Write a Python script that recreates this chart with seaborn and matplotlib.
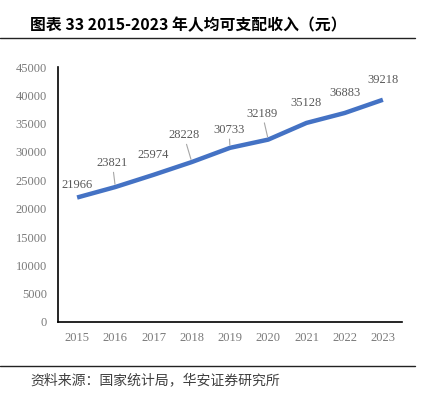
import matplotlib
matplotlib.use("Agg")
import matplotlib.pyplot as plt
from matplotlib.lines import Line2D
import seaborn as sns
import pandas as pd

years = ["2015", "2016", "2017", "2018", "2019", "2020", "2021", "2022", "2023"]
income = [21966, 23821, 25974, 28228, 30733, 32189, 35128, 36883, 39218]
yticks = [0, 5000, 10000, 15000, 20000, 25000, 30000, 35000, 40000, 45000]
title = "图表 33 2015-2023 年人均可支配收入（元）"
source = "资料来源：国家统计局，华安证券研究所"

# label offsets in pixels (dx, dy) and whether a leader line is drawn
label_offsets = [(0, 13), (-3, 24), (0, 20), (-8, 27), (-1, 18), (-6, 26), (0, 20), (0, 20), (0, 20)]
leaders = [False, True, False, True, True, True, False, False, False]

sns.set_theme(style="white")
plt.rcParams['font.family'] = ['Noto Sans CJK SC', 'DejaVu Sans']

df = pd.DataFrame({"year": years, "income": income})

fig = plt.figure(figsize=(4.22, 3.95), dpi=100)
ax = fig.add_axes([58/422, 1-322/395, (402-58)/422, (322-67)/395])

sns.lineplot(data=df, x="year", y="income", ax=ax, color="#4472C4", linewidth=3.2,
             sort=False, solid_capstyle="butt")

ax.set_xlim(-0.5, 8.5)
ax.set_ylim(0, 45000)
ax.set_yticks(yticks)
ax.set_yticklabels([str(v) for v in yticks])
ax.set_xlabel("")
ax.set_ylabel("")

for s in ["top", "right"]:
    ax.spines[s].set_visible(False)
for s in ["left", "bottom"]:
    ax.spines[s].set_color("#000000")
    ax.spines[s].set_linewidth(1.2)

ax.tick_params(axis="both", length=0)
ax.tick_params(axis="y", pad=8)
ax.tick_params(axis="x", pad=7)
for lab in ax.get_xticklabels() + ax.get_yticklabels():
    lab.set_fontfamily("Liberation Serif")
    lab.set_fontsize(9)
    lab.set_color("#7a7a7a")

for i, (y, v) in enumerate(zip(years, income)):
    dx, dy = label_offsets[i]
    kw = {}
    if leaders[i]:
        kw["arrowprops"] = dict(arrowstyle="-", color="#a6a6a6", lw=0.8, shrinkA=0, shrinkB=2)
    ax.annotate(str(v), xy=(i, v), xytext=(dx, dy), textcoords="offset pixels",
                ha="center", va="center", fontsize=9, family="Liberation Serif",
                color="#595959", **kw)

fig.text(30/422, 1-25/395, title, fontsize=11.4, fontweight="bold", color="#000000",
         ha="left", va="center", family=['Noto Sans CJK SC', 'DejaVu Sans'])
fig.add_artist(Line2D([0, 415/422], [1-38/395, 1-38/395], color="#222222", lw=1.0))
fig.add_artist(Line2D([0, 415/422], [1-366/395, 1-366/395], color="#222222", lw=1.0))
fig.text(30/422, 1-380/395, source, fontsize=10, color="#404040",
         ha="left", va="center", family=['Noto Sans CJK SC', 'DejaVu Sans'])

fig.savefig("out.png", dpi=100)
